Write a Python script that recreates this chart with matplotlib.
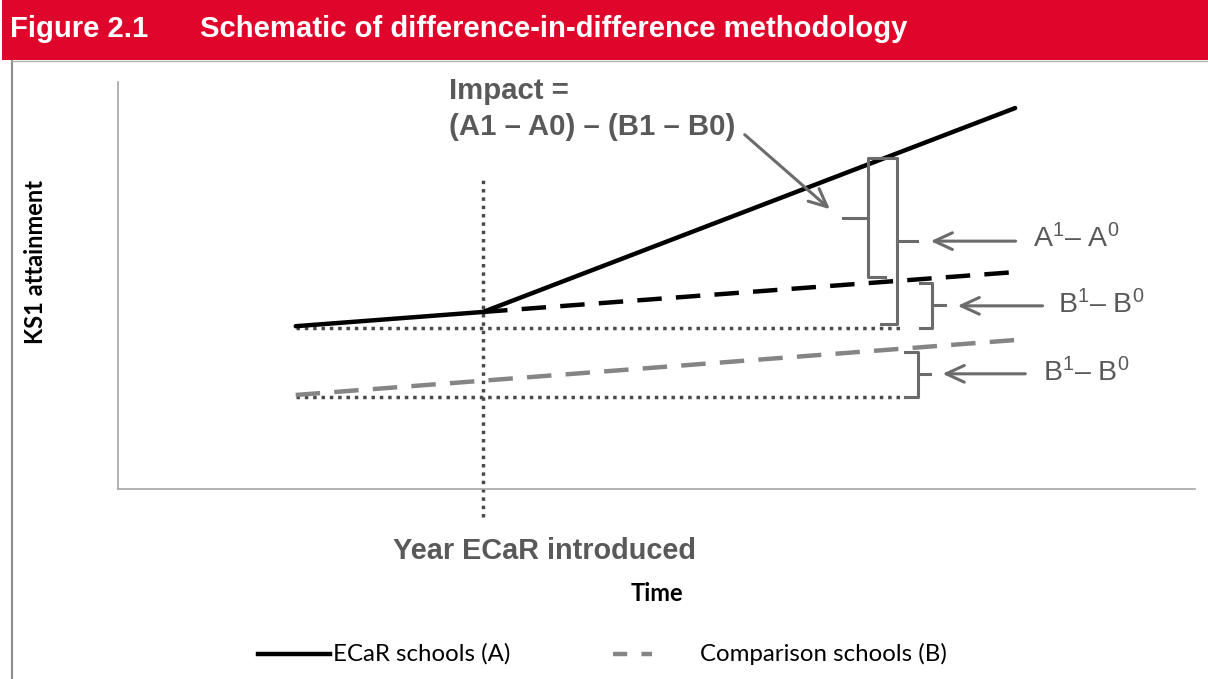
import matplotlib
matplotlib.use("Agg")
import matplotlib.pyplot as plt
from matplotlib.lines import Line2D
from matplotlib.patches import Rectangle

plt.rcParams["mathtext.fontset"] = "custom"
plt.rcParams["mathtext.rm"] = "Liberation Sans"
plt.rcParams["mathtext.it"] = "Liberation Sans"
plt.rcParams["mathtext.bf"] = "Liberation Sans:bold"

# schematic values (arbitrary units, axes run 0-100 in both directions)
time_pts = [16.5, 33.9, 83.3]
ecar = [40.0, 43.5, 93.6]
cf_time = [33.9, 83.3]
cf_vals = [43.5, 53.3]
comp_time = [16.5, 83.3]
comp_vals = [23.1, 36.6]
year_introduced = 33.9
base_a = 39.5
base_b = 22.6
base_a_end = 72.6
base_b_end = 73.1

title_num = "Figure 2.1"
title_txt = "Schematic of difference-in-difference methodology"
impact_txt = "Impact =\n(A1 \u2013 A0) \u2013 (B1 \u2013 B0)"
label_a = "A$^{1}$\u2013 A$^{0}$"
label_b = "B$^{1}$\u2013 B$^{0}$"

RED = "#E0052A"
GREY = "#6b6b6b"
TXT = "#595959"
ARIAL = ["Liberation Sans", "DejaVu Sans"]
CAL = ["Lato", "DejaVu Sans"]

fig = plt.figure(figsize=(12.08, 6.79), dpi=100)
W, H = 1208, 679

# header band + frame
fig.add_artist(Rectangle((2 / W, 1 - 60 / H), 1, 60 / H, transform=fig.transFigure,
                         facecolor=RED, edgecolor="none"))
fig.add_artist(Line2D([12 / W, 12 / W], [0, 1 - 61 / H], transform=fig.transFigure,
                      color="#8c8c8c", lw=1.5))
fig.add_artist(Line2D([12 / W, 1], [1 - 61 / H, 1 - 61 / H], transform=fig.transFigure,
                      color="#b0b0b0", lw=1.0))
fig.text(10 / W, 1 - 29 / H, title_num, color="white", fontsize=21.1, fontweight="bold",
         family=ARIAL, va="center", ha="left")
fig.text(200 / W, 1 - 29 / H, title_txt, color="white", fontsize=21.1, fontweight="bold",
         family=ARIAL, va="center", ha="left")

ax = fig.add_axes([118 / W, (679 - 489) / H, (1195 - 118) / W, (489 - 82) / H])
ax.set_xlim(0, 100)
ax.set_ylim(0, 100)
ax.set_xticks([])
ax.set_yticks([])
for s in ["top", "right"]:
    ax.spines[s].set_visible(False)
for s in ["left", "bottom"]:
    ax.spines[s].set_color("#a6a6a6")
    ax.spines[s].set_linewidth(1.2)

dot = (0, (1, 1.4))
# baselines and introduction year
ax.plot([time_pts[0], base_a_end], [base_a, base_a], color="#4a4a4a", lw=2.5, ls=dot)
ax.plot([comp_time[0], base_b_end], [base_b, base_b], color="#4a4a4a", lw=2.5, ls=dot)
ax.plot([year_introduced, year_introduced], [-7, 77], color="#4a4a4a", lw=2.5, ls=dot,
        clip_on=False)

# series
ax.plot(time_pts, ecar, color="black", lw=3.2, solid_capstyle="round")
ax.plot(cf_time, cf_vals, color="black", lw=3.2, dashes=(5.5, 3.2))
ax.plot(comp_time, comp_vals, color="#858585", lw=3.2, dashes=(5.5, 3.2))


def brace(x, y0, y1, hook_to, nub_to, hook_to_bottom=None):
    if hook_to_bottom is None:
        hook_to_bottom = hook_to
    ym = (y0 + y1) / 2
    ax.plot([hook_to, x, x, hook_to_bottom], [y1, y1, y0, y0], color=GREY, lw=2.2,
            solid_joinstyle="round")
    ax.plot([x, nub_to], [ym, ym], color=GREY, lw=2.2)


def arrow(x0, x1, y):
    ax.annotate("", xy=(x1, y), xytext=(x0, y),
                arrowprops=dict(arrowstyle="->,head_length=1.3,head_width=0.6",
                                color=GREY, lw=2.2))


# braces
brace(69.6, 52.1, 81.3, 71.2, 67.3)
brace(72.3, 40.5, 81.3, 69.7, 74.2, 70.8)
brace(75.6, 39.6, 50.6, 74.5, 76.8)
brace(74.3, 22.6, 33.7, 73.1, 75.4)

arrow(83.6, 75.2, 60.9)
arrow(86.1, 77.7, 45.0)
arrow(84.5, 76.3, 28.3)

ax.text(85.0, 61.6, label_a, color=TXT, fontsize=20.5, family=ARIAL, va="center")
ax.text(87.3, 45.4, label_b, color=TXT, fontsize=20.5, family=ARIAL, va="center")
ax.text(85.9, 28.6, label_b, color=TXT, fontsize=20.5, family=ARIAL, va="center")

ax.annotate("", xy=(66.3, 68.3), xytext=(58.0, 87.5),
            arrowprops=dict(arrowstyle="->,head_length=1.3,head_width=0.6",
                            color=GREY, lw=2.2))
ax.text(30.7, 93.3, impact_txt, color=TXT, fontsize=21.2, fontweight="bold", family=ARIAL,
        va="center", ha="left", linespacing=1.38)

ax.text(39.6, -15.2, "Year ECaR introduced", color=TXT, fontsize=20.8, fontweight="bold",
        family=ARIAL, ha="center", va="center", clip_on=False)

ax.set_xlabel("Time", fontsize=17, fontweight="bold", family=CAL, labelpad=67)
ax.set_ylabel("KS1 attainment", fontsize=17, fontweight="bold", family=CAL)
ax.yaxis.set_label_coords(-0.066, 0.558)

# legend drawn by hand to match the original spacing
fig.add_artist(Line2D([258 / W, 330 / W], [1 - 654 / H] * 2, transform=fig.transFigure,
                      color="black", lw=3.2))
fig.add_artist(Line2D([613 / W, 652 / W], [1 - 654 / H] * 2, transform=fig.transFigure,
                      color="#858585", lw=3.2, dashes=(3.2, 3.2)))
fig.text(333 / W, 1 - 654 / H, "ECaR schools (A)", fontsize=17.3, family=CAL, va="center")
fig.text(700 / W, 1 - 654 / H, "Comparison schools (B)", fontsize=17.3, family=CAL,
         va="center")

fig.savefig("out.png", dpi=100)
